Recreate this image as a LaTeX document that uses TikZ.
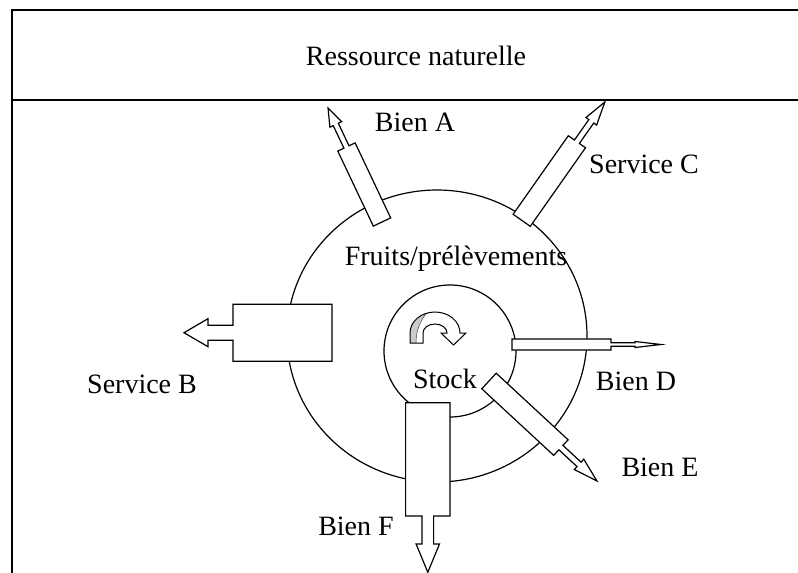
\documentclass[tikz,border=0pt]{standalone}
\usepackage{fontspec}
\setmainfont{Liberation Serif}

% block arrow: #1,#2 back point, #3 rotation, #4/#5 body length/half width,
% #6/#7 shaft length/half width, #8/#9 head length/half width
\newcommand{\blockarrow}[9]{%
  \begin{scope}[shift={(#1,#2)}, rotate=#3]
    \draw[arrowshape] (0,-#5) -- (#4,-#5) -- (#4,-#7) -- ({#4+#6},-#7)
      -- ({#4+#6},-#9) -- ({#4+#6+#8},0) -- ({#4+#6},#9) -- ({#4+#6},#7)
      -- (#4,#7) -- (#4,#5) -- (0,#5) -- cycle;
  \end{scope}}

\begin{document}
\begin{tikzpicture}[x=1pt,y=-1pt,
  thinline/.style={line width=1.2pt},
  frameline/.style={line width=2.6pt},
  arrowshape/.style={draw=black, fill=white, line width=1.2pt, line join=miter},
  lbl/.style={font=\fontsize{28}{30}\selectfont, inner sep=0pt, anchor=base},
]
\useasboundingbox (0,0) rectangle (798,573);

% frame and title band
\draw[frameline] (12,573) -- (12,10) -- (798,10);
\draw[line width=2pt] (12,100) -- (798,100);
\node[lbl] (title) at (416,65) {Ressource naturelle};

% resource rings
\draw[thinline] (437,336) ellipse[x radius=150, y radius=146];
\draw[thinline] (450,351) circle[radius=66];

% outgoing goods and services
\blockarrow{382}{222}{115.35}{83}{9.6}{25}{2.8}{18}{6.5}   % Bien A
\blockarrow{521.7}{220.3}{54.9}{96}{10.5}{25}{3}{23.7}{6.5} % Service C
\blockarrow{332}{332.7}{180}{99}{28.5}{25}{7.5}{24}{14}    % Service B
\blockarrow{512}{344.5}{0}{99}{5.5}{24}{1.7}{26}{3}         % Bien D
\blockarrow{489}{381}{-42.8}{98}{10.6}{24.7}{3}{24.4}{7}    % Bien E
\blockarrow{427.8}{402.7}{-90}{113.3}{22.2}{28}{5.8}{28.3}{11.7} % Bien F

% renewal arrow inside the stock
\begin{scope}[shift={(435,333)}]
  \fill[white] (-25,10) -- (-25,0) arc[start angle=180, end angle=360, x radius=25, y radius=21]
    -- (31,0) -- (18.5,12) -- (6,0) -- (12,0)
    arc[start angle=360, end angle=180, x radius=12, y radius=9] -- (-12,10) -- cycle;
  \fill[gray!40] (-25,10) -- (-25,0) arc[start angle=180, end angle=250, x radius=25, y radius=21]
    .. controls (-14,-13) and (-19,-4) .. (-19,10) -- cycle;
  \draw[line width=0.6pt, gray!70!black] (-19,10) .. controls (-19,-4) and (-14,-13) .. (-8.5,-19.7);
  \draw[line width=1pt, line join=miter] (-25,10) -- (-25,0)
    arc[start angle=180, end angle=360, x radius=25, y radius=21]
    -- (31,0) -- (18.5,12) -- (6,0) -- (12,0)
    arc[start angle=360, end angle=180, x radius=12, y radius=9] -- (-12,10) -- cycle;
\end{scope}

% labels
\node[lbl] (bienA) at (415,131) {Bien A};
\node[lbl] (servC) at (644,173) {Service C};
\node[lbl] (fruits) at (456,265) {Fruits/prélèvements};
\node[lbl] (servB) at (142,393) {Service B};
\node[lbl] (stock) at (445,388) {Stock};
\node[lbl] (bienD) at (636,390) {Bien D};
\node[lbl] (bienE) at (660,476) {Bien E};
\node[lbl] (bienF) at (356,535) {Bien F};
\end{tikzpicture}
\end{document}
